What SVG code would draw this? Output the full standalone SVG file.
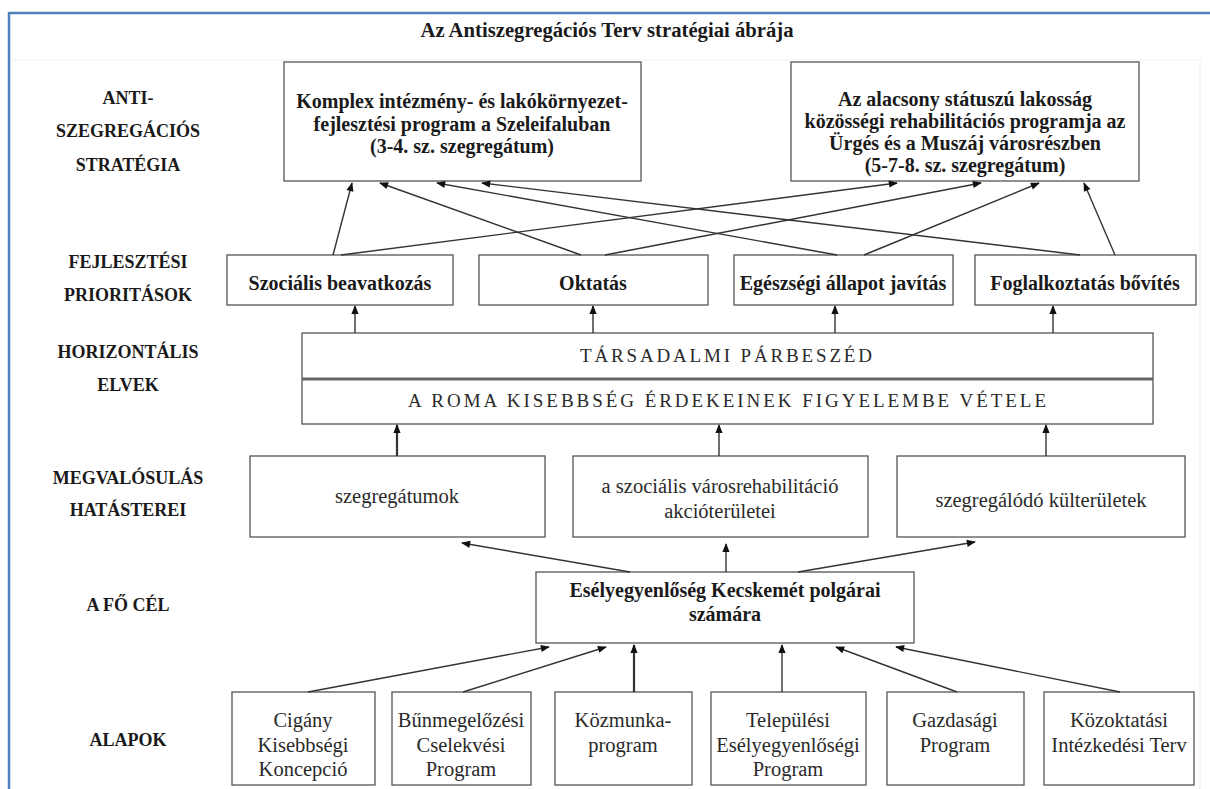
<svg xmlns="http://www.w3.org/2000/svg" width="1210" height="789" viewBox="0 0 1210 789">
<style>
.bx{fill:#fff;stroke:#555;stroke-width:1.3}
.lbl{font-family:"Liberation Serif","Times New Roman",serif;font-weight:bold;font-size:18px;fill:#1a1a1a;text-anchor:middle}
.ttl{font-family:"Liberation Serif","Times New Roman",serif;font-weight:bold;font-size:20.7px;fill:#1a1a1a;text-anchor:middle}
.bt{font-family:"Liberation Serif","Times New Roman",serif;font-weight:bold;font-size:20px;fill:#1a1a1a;text-anchor:middle}
.rt{font-family:"Liberation Serif","Times New Roman",serif;font-size:20.5px;fill:#2a2a2a;text-anchor:middle}
.sp{font-family:"Liberation Serif","Times New Roman",serif;font-size:19px;fill:#2a2a2a}
.cn{stroke:#333;stroke-width:1.4;fill:none;marker-end:url(#ah)}
.cb{stroke:#333;stroke-width:2.2;fill:none;marker-end:url(#ah)}
</style>
<defs>
<marker id="ah" viewBox="0 0 10 10" refX="9" refY="5" markerWidth="10" markerHeight="9" markerUnits="userSpaceOnUse" orient="auto">
<path d="M0,1 L10,5 L0,9 z" fill="#111"/>
</marker>
</defs>
<rect x="0" y="0" width="1210" height="789" fill="#fff"/>
<g id="frame">
<line x1="9" y1="13" x2="1210" y2="13" stroke="#4f81bd" stroke-width="2.5"/>
<line x1="9" y1="12" x2="9" y2="789" stroke="#4f81bd" stroke-width="2.5"/>
<line x1="11" y1="60" x2="1200" y2="60" stroke="#f0f0f0" stroke-width="1"/>
<line x1="1200" y1="60" x2="1200" y2="789" stroke="#ececec" stroke-width="1"/>
</g>
<text class="ttl" x="607" y="37">Az Antiszegregációs Terv stratégiai ábrája</text>
<g id="side-labels">
<text class="lbl" x="128" y="104">ANTI-</text>
<text class="lbl" x="128" y="137">SZEGREGÁCIÓS</text>
<text class="lbl" x="128" y="171">STRATÉGIA</text>
<text class="lbl" x="128" y="268">FEJLESZTÉSI</text>
<text class="lbl" x="128" y="301">PRIORITÁSOK</text>
<text class="lbl" x="128" y="358">HORIZONTÁLIS</text>
<text class="lbl" x="128" y="391">ELVEK</text>
<text class="lbl" x="128" y="484">MEGVALÓSULÁS</text>
<text class="lbl" x="128" y="516">HATÁSTEREI</text>
<text class="lbl" x="128" y="611">A FŐ CÉL</text>
<text class="lbl" x="128" y="746">ALAPOK</text>
</g>
<g id="strat1">
<rect class="bx" x="284" y="62" width="357" height="119"/>
<text class="bt" x="462" y="108">Komplex intézmény- és lakókörnyezet-</text>
<text class="bt" x="462" y="131">fejlesztési program a Szeleifaluban</text>
<text class="bt" x="462" y="153">(3-4. sz. szegregátum)</text>
</g>
<g id="strat2">
<rect class="bx" x="791" y="62" width="348" height="119"/>
<text class="bt" x="965" y="106">Az alacsony státuszú lakosság</text>
<text class="bt" x="965" y="128">közösségi rehabilitációs programja az</text>
<text class="bt" x="965" y="150">Ürgés és a Muszáj városrészben</text>
<text class="bt" x="965" y="172">(5-7-8. sz. szegregátum)</text>
</g>
<g id="prio1"><rect class="bx" x="227" y="255" width="226" height="50"/><text class="bt" x="340" y="290">Szociális beavatkozás</text></g>
<g id="prio2"><rect class="bx" x="479" y="255" width="229" height="50"/><text class="bt" x="593" y="290">Oktatás</text></g>
<g id="prio3"><rect class="bx" x="734" y="255" width="219" height="50"/><text class="bt" x="843" y="290">Egészségi állapot javítás</text></g>
<g id="prio4"><rect class="bx" x="975" y="255" width="221" height="50"/><text class="bt" x="1085" y="290">Foglalkoztatás bővítés</text></g>
<g id="principles">
<rect class="bx" x="302" y="333" width="851" height="91"/>
<line x1="302" y1="379" x2="1153" y2="379" stroke="#666" stroke-width="3"/>
<text class="sp" x="580" y="362" textLength="292" lengthAdjust="spacing">TÁRSADALMI PÁRBESZÉD</text>
<text class="sp" x="408" y="407" textLength="638" lengthAdjust="spacing">A ROMA KISEBBSÉG ÉRDEKEINEK FIGYELEMBE VÉTELE</text>
</g>
<g id="area1"><rect class="bx" x="250" y="456" width="295" height="81"/><text class="rt" x="397" y="503">szegregátumok</text></g>
<g id="area2"><rect class="bx" x="573" y="456" width="295" height="81"/><text class="rt" x="720" y="493">a szociális városrehabilitáció</text><text class="rt" x="720" y="518">akcióterületei</text></g>
<g id="area3"><rect class="bx" x="897" y="456" width="288" height="81"/><text class="rt" x="1041" y="507">szegregálódó külterületek</text></g>
<g id="goal">
<rect class="bx" x="536" y="572" width="378" height="71"/>
<text class="bt" x="725" y="597">Esélyegyenlőség Kecskemét polgárai</text>
<text class="bt" x="725" y="621">számára</text>
</g>
<g id="base1"><rect class="bx" x="232" y="692" width="143" height="93"/><text class="rt" x="303" y="727">Cigány</text><text class="rt" x="303" y="752">Kisebbségi</text><text class="rt" x="303" y="776">Koncepció</text></g>
<g id="base2"><rect class="bx" x="392" y="692" width="139" height="93"/><text class="rt" x="461" y="727">Bűnmegelőzési</text><text class="rt" x="461" y="752">Cselekvési</text><text class="rt" x="461" y="776">Program</text></g>
<g id="base3"><rect class="bx" x="555" y="692" width="137" height="93"/><text class="rt" x="623" y="727">Közmunka-</text><text class="rt" x="623" y="752">program</text></g>
<g id="base4"><rect class="bx" x="711" y="692" width="155" height="93"/><text class="rt" x="788" y="727">Települési</text><text class="rt" x="788" y="752">Esélyegyenlőségi</text><text class="rt" x="788" y="776">Program</text></g>
<g id="base5"><rect class="bx" x="887" y="692" width="137" height="93"/><text class="rt" x="955" y="727">Gazdasági</text><text class="rt" x="955" y="752">Program</text></g>
<g id="base6"><rect class="bx" x="1044" y="692" width="150" height="93"/><text class="rt" x="1119" y="727">Közoktatási</text><text class="rt" x="1119" y="752">Intézkedési Terv</text></g>
<g id="connectors">
<line class="cn" x1="333" y1="255" x2="352" y2="183"/>
<line class="cn" x1="341" y1="255" x2="897" y2="183"/>
<line class="cn" x1="581" y1="255" x2="380" y2="183"/>
<line class="cn" x1="605" y1="255" x2="981" y2="183"/>
<line class="cn" x1="837" y1="255" x2="437" y2="183"/>
<line class="cn" x1="864" y1="255" x2="1039" y2="183"/>
<line class="cn" x1="1080" y1="255" x2="482" y2="183"/>
<line class="cn" x1="1115" y1="255" x2="1084" y2="183"/>
<line class="cn" x1="355" y1="333" x2="355" y2="306"/>
<line class="cn" x1="593" y1="333" x2="593" y2="306"/>
<line class="cn" x1="835" y1="333" x2="835" y2="306"/>
<line class="cn" x1="1053" y1="333" x2="1053" y2="306"/>
<line class="cb" x1="397" y1="456" x2="397" y2="425"/>
<line class="cn" x1="719" y1="456" x2="719" y2="425"/>
<line class="cn" x1="1046" y1="456" x2="1046" y2="425"/>
<line class="cn" x1="630" y1="572" x2="462" y2="543"/>
<line class="cn" x1="726" y1="572" x2="726" y2="544"/>
<line class="cn" x1="798" y1="572" x2="975" y2="542"/>
<line class="cn" x1="308" y1="692" x2="549" y2="647"/>
<line class="cn" x1="463" y1="692" x2="606" y2="647"/>
<line class="cb" x1="634" y1="692" x2="634" y2="645"/>
<line class="cn" x1="782" y1="692" x2="782" y2="645"/>
<line class="cn" x1="957" y1="692" x2="836" y2="647"/>
<line class="cn" x1="1120" y1="692" x2="896" y2="647"/>
</g>
</svg>
